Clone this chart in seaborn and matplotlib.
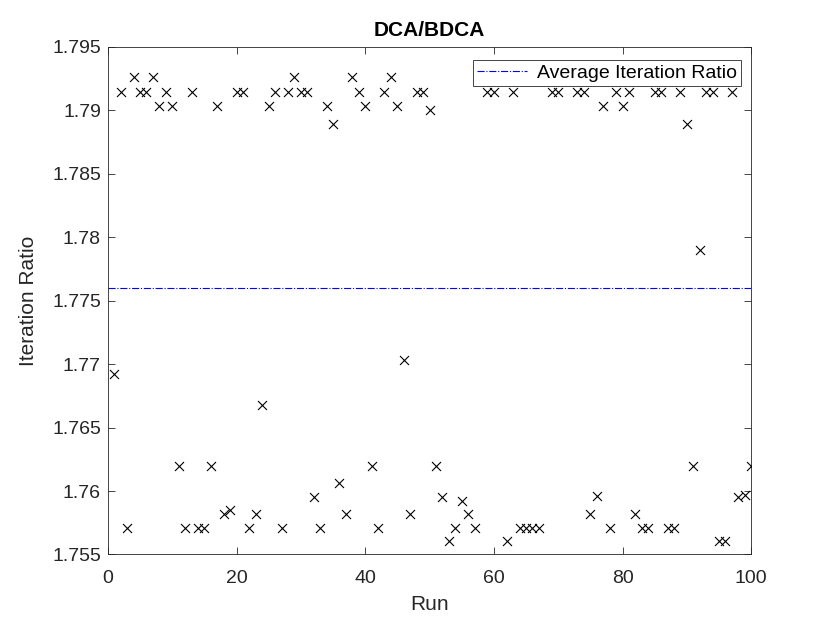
import numpy as np
import pandas as pd
import matplotlib
matplotlib.use('Agg')
import matplotlib.pyplot as plt
from matplotlib.ticker import FormatStrFormatter
import seaborn as sns

# iteration ratio DCA/BDCA per run
runs = np.arange(1, 101)
ratio = [
    1.7692, 1.7914, 1.7571, 1.7926, 1.7914, 1.7914, 1.7926, 1.7903, 1.7914, 1.7903,
    1.7620, 1.7571, 1.7914, 1.7571, 1.7571, 1.7620, 1.7903, 1.7582, 1.7585, 1.7914,
    1.7914, 1.7571, 1.7582, 1.7668, 1.7903, 1.7914, 1.7571, 1.7914, 1.7926, 1.7914,
    1.7914, 1.7595, 1.7571, 1.7903, 1.7889, 1.7606, 1.7582, 1.7926, 1.7914, 1.7903,
    1.7620, 1.7571, 1.7914, 1.7926, 1.7903, 1.7703, 1.7582, 1.7914, 1.7914, 1.7900,
    1.7620, 1.7595, 1.7561, 1.7571, 1.7592, 1.7582, 1.7571, 1.7926, 1.7914, 1.7914,
    1.7926, 1.7561, 1.7914, 1.7571, 1.7571, 1.7571, 1.7571, 1.7926, 1.7914, 1.7914,
    1.7926, 1.7926, 1.7914, 1.7914, 1.7582, 1.7596, 1.7903, 1.7571, 1.7914, 1.7903,
    1.7914, 1.7582, 1.7571, 1.7571, 1.7914, 1.7914, 1.7571, 1.7571, 1.7914, 1.7889,
    1.7620, 1.7790, 1.7914, 1.7914, 1.7561, 1.7561, 1.7914, 1.7595, 1.7597, 1.7620,
]
x_ticks = [0, 20, 40, 60, 80, 100]
y_ticks = [1.755, 1.76, 1.765, 1.77, 1.775, 1.78, 1.785, 1.79, 1.795]

df = pd.DataFrame({'Run': runs, 'Ratio': ratio})
avg_ratio = df['Ratio'].mean()

sns.set_style('ticks')
plt.rcParams['font.family'] = ['Liberation Sans', 'DejaVu Sans']

axis_grey = '#262626'

fig = plt.figure(figsize=(8.3, 6.23), dpi=100)
ax = fig.add_axes([0.13, 0.11, 0.775, 0.815])

sns.scatterplot(x='Run', y='Ratio', data=df, marker='x', color='k',
                s=42, linewidth=0.8, ax=ax, legend=False, zorder=3)
ax.axhline(avg_ratio, color='#0000ff', linestyle='-.', linewidth=0.8,
           label='Average Iteration Ratio', zorder=2)

ax.set_xlim(0, 100)
ax.set_ylim(1.755, 1.795)
ax.set_xticks(x_ticks)
ax.set_yticks(y_ticks)
ax.yaxis.set_major_formatter(FormatStrFormatter('%g'))

ax.tick_params(direction='in', length=5, width=0.6, labelsize=14,
               colors=axis_grey, top=True, right=True,
               labeltop=False, labelright=False)
ax.tick_params(axis='x', pad=11)
ax.tick_params(axis='y', pad=5)
for side in ['top', 'right', 'bottom', 'left']:
    ax.spines[side].set_visible(True)
    ax.spines[side].set_color(axis_grey)
    ax.spines[side].set_linewidth(0.6)

ax.set_xlabel('Run', fontsize=15, color=axis_grey, labelpad=6)
ax.set_ylabel('Iteration Ratio', fontsize=15, color=axis_grey, labelpad=10)
ax.set_title('DCA/BDCA', fontsize=15, fontweight='bold', color='k', pad=8)

leg = ax.legend(loc='upper right', bbox_to_anchor=(0.99, 0.981),
                fontsize=14, fancybox=False, framealpha=1,
                edgecolor=axis_grey, borderpad=0.2, handlelength=2.6,
                handletextpad=0.5, borderaxespad=0.2)
leg.get_frame().set_linewidth(0.6)
for t in leg.get_texts():
    t.set_color('k')

fig.savefig('out.png', dpi=100)
